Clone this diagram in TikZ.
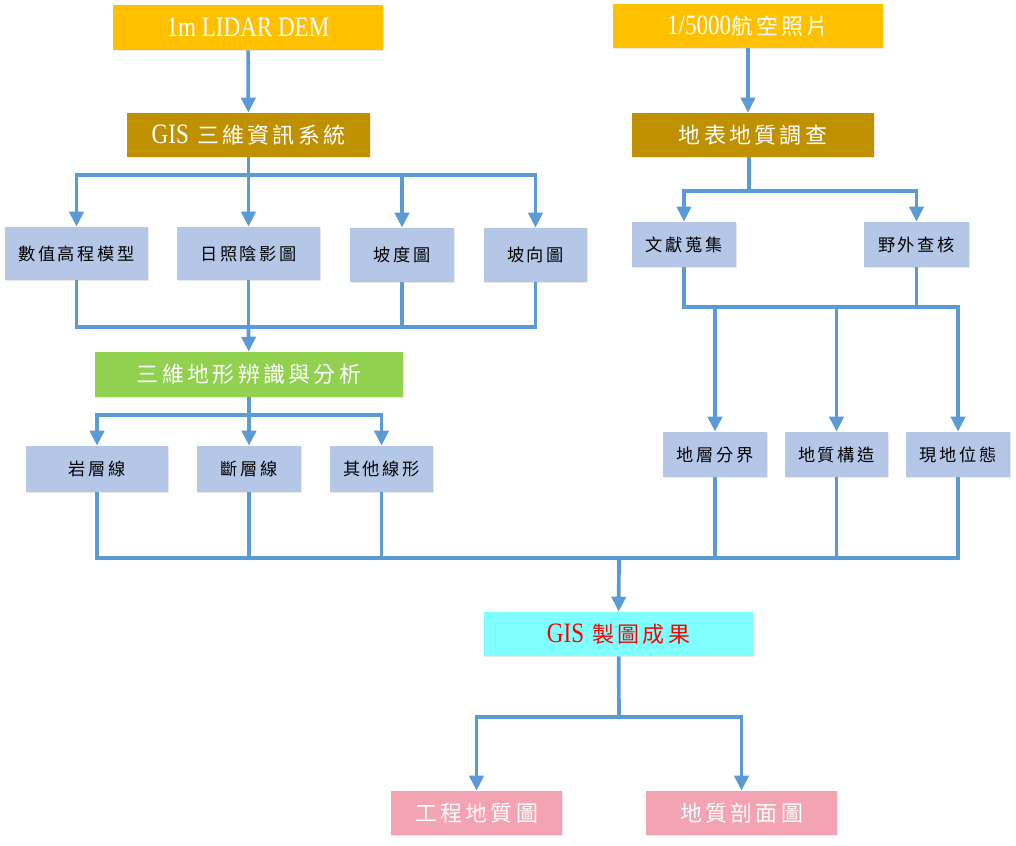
\documentclass[tikz,border=0pt]{standalone}
\usepackage{fontspec}
\newfontfamily\cjk[LetterSpace=15]{Noto Sans CJK TC}
\newfontfamily\lat[FakeStretch=0.82]{Liberation Serif}
\usetikzlibrary{arrows.meta,shadows}

\definecolor{srcyellow}{HTML}{FFC000}
\definecolor{gold}{HTML}{BF9000}
\definecolor{leaf}{HTML}{92D050}
\definecolor{pale}{HTML}{B4C7E7}
\definecolor{aqua}{HTML}{80FFFF}
\definecolor{rose}{HTML}{F4A3B2}
\definecolor{wire}{HTML}{5B9BD5}

\begin{document}
\begin{tikzpicture}[x=0.02cm,y=-0.02cm,
    box/.style={rectangle,inner sep=0pt,
        drop shadow={opacity=0.18,shadow xshift=0.8pt,shadow yshift=-0.8pt}},
    head/.style={box,text=white,font=\cjk\fontsize{12.5}{14}\selectfont},
    item/.style={box,fill=pale,text=black,font=\cjk\fontsize{9.8}{12}\selectfont},
    link/.style={draw=wire,line width=2.1pt},
    arr/.style={link,-{Triangle[length=8.5pt,width=8pt]}}]
    \useasboundingbox (0,0) rectangle (1016,845);

    \node[head,fill=srcyellow,minimum width=5.4cm,minimum height=0.9cm] (dem) at (248,27.5) {\lat\fontsize{16}{18}\selectfont 1m LIDAR DEM};
    \node[head,fill=srcyellow,minimum width=5.4cm,minimum height=0.88cm] (photo) at (748,26) {{\lat\fontsize{16}{18}\selectfont 1/5000}航空照片};
    \node[head,fill=gold,minimum width=4.86cm,minimum height=0.88cm] (gis3d) at (248.5,135) {{\lat\fontsize{16}{18}\selectfont GIS} 三維資訊系統};
    \node[head,fill=gold,minimum width=4.84cm,minimum height=0.88cm] (survey) at (753,135) {地表地質調查};

    \node[item,minimum width=2.86cm,minimum height=1.06cm] (dtm) at (76.5,253.5) {數值高程模型};
    \node[item,minimum width=2.86cm,minimum height=1.06cm] (hill) at (248.5,253.5) {日照陰影圖};
    \node[item,minimum width=2.08cm,minimum height=1.08cm] (slope) at (402,255) {坡度圖};
    \node[item,minimum width=2.06cm,minimum height=1.08cm] (aspect) at (535.5,255) {坡向圖};
    \node[item,minimum width=2.08cm,minimum height=0.9cm] (lit) at (684,244.5) {文獻蒐集};
    \node[item,minimum width=2.1cm,minimum height=0.9cm] (field) at (916.5,244.5) {野外查核};

    \node[head,fill=leaf,minimum width=6.16cm,minimum height=0.9cm] (terrain) at (249,374.5) {三維地形辨識與分析};

    \node[item,minimum width=2.84cm,minimum height=0.92cm] (bed) at (97,469) {岩層線};
    \node[item,minimum width=2.08cm,minimum height=0.92cm] (fault) at (249,469) {斷層線};
    \node[item,minimum width=2.06cm,minimum height=0.92cm] (other) at (381.5,469) {其他線形};
    \node[item,minimum width=2.08cm,minimum height=0.9cm] (strat) at (715,454.5) {地層分界};
    \node[item,minimum width=2.06cm,minimum height=0.9cm] (struct) at (836.5,454.5) {地質構造};
    \node[item,minimum width=2.08cm,minimum height=0.9cm] (attit) at (958,454.5) {現地位態};

    \node[head,fill=aqua,text=red,minimum width=5.38cm,minimum height=0.88cm] (result) at (618.5,634) {{\lat\fontsize{16}{18}\selectfont GIS} 製圖成果};
    \node[head,fill=rose,minimum width=3.42cm,minimum height=0.88cm] (engmap) at (476.5,813) {工程地質圖};
    \node[head,fill=rose,minimum width=3.82cm,minimum height=0.88cm] (section) at (741.5,813) {地質剖面圖};

    \coordinate (split1) at (248.5,175);
    \coordinate (merge1) at (248.5,327);
    \coordinate (split2) at (749,191);
    \coordinate (merge2) at (836.5,307);
    \coordinate (split3) at (249,415);
    \coordinate (merge3) at (619,558);
    \coordinate (split4) at (619,717);

    % left column
    \draw[arr] (dem) -- (gis3d);
    \draw[link] (gis3d) -- (split1);
    \draw[arr] (split1) -| (dtm);
    \draw[arr] (split1) -- (hill);
    \draw[arr] (split1) -| (slope);
    \draw[arr] (split1) -| (aspect);
    \draw[link] (dtm) |- (merge1);
    \draw[link] (aspect) |- (merge1);
    \draw[link] (hill) -- (merge1);
    \draw[link] (slope) -- (slope |- merge1);
    \draw[arr] (merge1) -- (terrain);
    \draw[link] (terrain) -- (split3);
    \draw[arr] (split3) -| (bed);
    \draw[arr] (split3) -- (fault);
    \draw[arr] (split3) -| (other);

    % right column
    \draw[arr] (photo) -- (survey.north -| photo);
    \draw[link] (survey.south -| split2) -- (split2);
    \draw[arr] (split2) -| (lit);
    \draw[arr] (split2) -| (field);
    \draw[link] (lit) |- (merge2);
    \draw[link] (field) -- (field |- merge2);
    \draw[arr] (merge2) -| (strat);
    \draw[arr] (merge2) -- (struct);
    \draw[arr] (merge2) -| (attit);

    % results
    \draw[link] (bed) |- (merge3);
    \draw[link] (attit) |- (merge3);
    \draw[link] (fault) -- (fault |- merge3);
    \draw[link] (other) -- (other |- merge3);
    \draw[link] (strat) -- (strat |- merge3);
    \draw[link] (struct) -- (struct |- merge3);
    \draw[arr] (merge3) -- (result);
    \draw[link] (result) -- (split4);
    \draw[arr] (split4) -| (engmap);
    \draw[arr] (split4) -| (section);
\end{tikzpicture}
\end{document}
